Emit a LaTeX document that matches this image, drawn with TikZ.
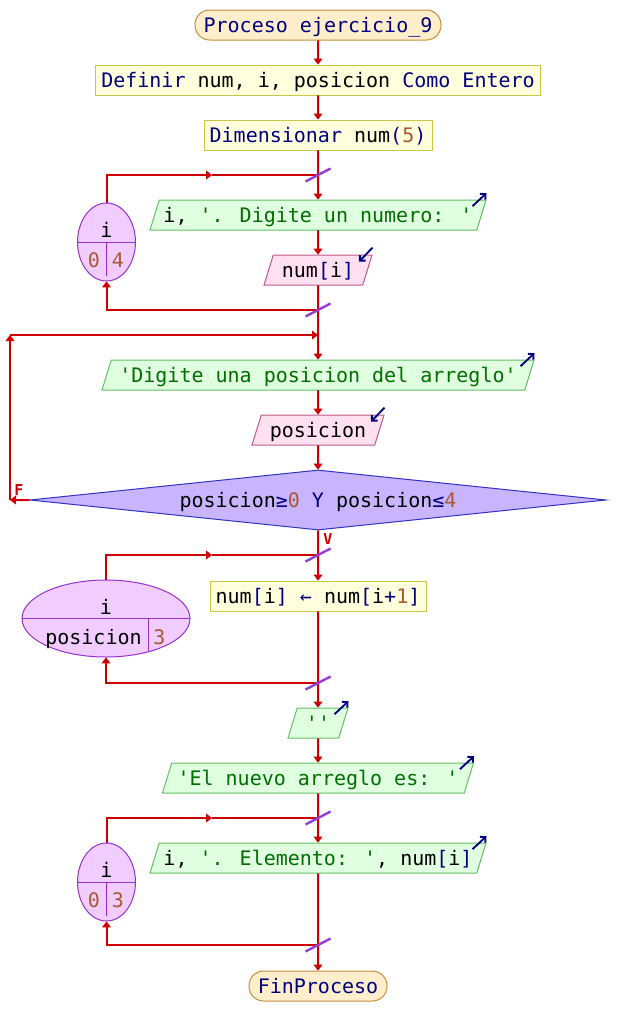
\documentclass[tikz,border=0pt]{standalone}
\usepackage{fontspec}
\usepackage{tikz}
\usetikzlibrary{arrows.meta}
\usetikzlibrary{shapes.geometric}
\newfontfamily\codigo{DejaVu Sans Mono}[Ligatures=TeXOff]
\definecolor{flecha}{RGB}{204,0,0}
\definecolor{barra}{RGB}{150,60,210}
\definecolor{azul}{RGB}{0,0,128}
\definecolor{verde}{RGB}{0,110,0}
\definecolor{numero}{RGB}{170,90,50}
\definecolor{procfondo}{RGB}{255,238,204}
\definecolor{procborde}{RGB}{200,140,60}
\definecolor{asigfondo}{RGB}{255,255,221}
\definecolor{asigborde}{RGB}{200,200,70}
\definecolor{salfondo}{RGB}{224,255,224}
\definecolor{salborde}{RGB}{100,190,100}
\definecolor{entfondo}{RGB}{255,224,240}
\definecolor{entborde}{RGB}{190,90,140}
\definecolor{decfondo}{RGB}{200,180,255}
\definecolor{decborde}{RGB}{50,50,190}
\definecolor{bucfondo}{RGB}{240,204,255}
\definecolor{bucborde}{RGB}{150,50,200}
\newcommand{\kw}[1]{\textcolor{azul}{#1}}
\newcommand{\cad}[1]{\textcolor{verde}{#1}}
\newcommand{\nro}[1]{\textcolor{numero}{#1}}

\begin{document}
\begin{tikzpicture}[x=1pt, y=-1pt, scale=0.75,
        every node/.append style={transform shape, font=\codigo\fontsize{20}{24}\selectfont, text height=18pt, text depth=3.4pt, inner sep=2pt},
        >={Triangle[length=4.5pt,width=6.5pt]},
        flujo/.style={draw=flecha, line width=1.5pt},
        barra/.style={draw=barra, line width=1.8pt},
        icono/.style={draw=azul, line width=1.4pt, -{Straight Barb[length=3pt,width=6pt]}},
        proceso/.style={draw=procborde, fill=procfondo, line width=0.75pt, rounded corners=11, minimum height=30},
        asigna/.style={draw=asigborde, fill=asigfondo, line width=0.75pt, minimum height=30},
        salida/.style={trapezium, trapezium left angle=70, trapezium right angle=110, trapezium stretches body, draw=salborde, fill=salfondo, line width=0.75pt, minimum height=30},
        entrada/.style={salida, draw=entborde, fill=entfondo},
        decision/.style={diamond, aspect=9.6, draw=decborde, fill=decfondo, line width=0.75pt, minimum width=576, minimum height=60, inner sep=1pt},
        bucle/.style={ellipse, draw=bucborde, fill=bucfondo, line width=0.75pt, inner sep=0pt},
        divisor/.style={draw=bucborde, line width=0.75pt},
        etiqueta/.style={text=flecha, font=\codigo\bfseries\fontsize{15}{18}\selectfont, text height=11pt, text depth=0pt, inner sep=0pt}]
    \useasboundingbox (0,0) rectangle (636,1036);

    \node[proceso, minimum width=246] (inicio) at (318,25) {\kw{Proceso ejercicio\_9}};
    \node[asigna, minimum width=445] (definir) at (318,80) {\kw{Definir} num, i, posicion \kw{Como Entero}};
    \node[asigna, minimum width=228] (dimen) at (318,135) {\kw{Dimensionar} num\kw{(}\nro{5}\kw{)}};
    \node[salida, minimum width=336] (sal1) at (318,215) {i, \cad{'. Digite un numero: '}};
    \node[entrada, minimum width=108] (ent1) at (318,270) {num\kw{[}i\kw{]}};
    \node[salida, minimum width=432] (sal2) at (318,375) {\cad{'Digite una posicion del arreglo'}};
    \node[entrada, minimum width=132] (ent2) at (318,430) {posicion};
    \node[decision] (dec) at (318,500) {posicion\kw{≥}\nro{0} \kw{Y} posicion\kw{≤}\nro{4}};
    \node[asigna, minimum width=216] (asig) at (318,596) {num\kw{[}i\kw{]} \kw{←} num\kw{[}i\kw{+}\nro{1}\kw{]}};
    \node[salida, minimum width=60] (sal3) at (318,723) {\cad{''}};
    \node[salida, minimum width=311] (sal4) at (318,778) {\cad{'El nuevo arreglo es: '}};
    \node[salida, minimum width=336] (sal5) at (318,858) {i, \cad{'. Elemento: '}, num\kw{[}i\kw{]}};
    \node[proceso, minimum width=138] (fin) at (318,986) {\kw{FinProceso}};

    \node[bucle, minimum width=58, minimum height=78] (var1) at (106.5,242) {};
    \draw[divisor] (var1.west) -- (var1.east);
    \draw[divisor] (var1.center) -- (106.5,276);
    \node[anchor=base] (var1i) at (106.5,237) {i};
    \node[anchor=base] (var1a) at (94,267) {\nro{0}};
    \node[anchor=base] (var1b) at (118,267) {\nro{4}};

    \node[bucle, minimum width=168, minimum height=77] (var2) at (106,618.5) {};
    \draw[divisor] (var2.west) -- (var2.east);
    \draw[divisor] (148,618.5) -- (148,651.5);
    \node[anchor=base] (var2i) at (106,614) {i};
    \node[anchor=base] (var2a) at (93.5,644) {posicion};
    \node[anchor=base] (var2b) at (159.5,644) {\nro{3}};

    \node[bucle, minimum width=58, minimum height=78] (var3) at (106.5,882) {};
    \draw[divisor] (var3.west) -- (var3.east);
    \draw[divisor] (var3.center) -- (106.5,916);
    \node[anchor=base] (var3i) at (106.5,877) {i};
    \node[anchor=base] (var3a) at (94,907) {\nro{0}};
    \node[anchor=base] (var3b) at (118,907) {\nro{3}};

    \coordinate (b1a) at (318,175);
    \coordinate (b1m) at (212,175);
    \coordinate (b1b) at (318,310);
    \coordinate (b2a) at (318,335);
    \coordinate (rA) at (10,500);
    \coordinate (rB) at (10,335);
    \coordinate (b3a) at (318,555);
    \coordinate (b3m) at (212,555);
    \coordinate (b3b) at (318,683);
    \coordinate (b4a) at (318,818);
    \coordinate (b4m) at (212,818);
    \coordinate (b4b) at (318,945);

    \draw[flujo,->] (inicio) -- (definir);
    \draw[flujo,->] (definir) -- (dimen);
    \draw[flujo,->] (dimen) -- (sal1);
    \draw[flujo,->] (sal1) -- (ent1);
    \draw[flujo] (ent1) -- (b2a);
    \draw[flujo,->] (b2a) -- (sal2);
    \draw[flujo,->] (sal2) -- (ent2);
    \draw[flujo,->] (ent2) -- (dec);
    \draw[flujo,->] (dec) -- (asig);
    \draw[flujo,->] (asig) -- (sal3);
    \draw[flujo,->] (sal3) -- (sal4);
    \draw[flujo,->] (sal4) -- (sal5);
    \draw[flujo,->] (sal5) -- (fin);

    \draw[flujo,->] (var1) |- (b1m);
    \draw[flujo] (b1m) -- (b1a);
    \draw[flujo,->] (b1b) -| (var1);
    \draw[flujo,->] (var2) |- (b3m);
    \draw[flujo] (b3m) -- (b3a);
    \draw[flujo,->] (b3b) -| (var2);
    \draw[flujo,->] (var3) |- (b4m);
    \draw[flujo] (b4m) -- (b4a);
    \draw[flujo,->] (b4b) -| (var3);

    \draw[flujo,->] (dec) -- (rA);
    \draw[flujo,->] (rA) -- (rB);
    \draw[flujo,->] (rB) -- (b2a);
    \node[etiqueta] (lf) at (19,490) {F};
    \node[etiqueta] (lv) at (328,539) {V};

    \foreach \c in {b1a,b1b,b3a,b3b,b4a,b4b}
    {
        \draw[barra] (\c) ++(-12.5,6.5) -- ++(25,-13);
    }
    \foreach \n in {sal1,sal2,sal3,sal4,sal5}
    {
        \draw[icono] (\n.top right corner) ++(-14,6.5) -- ++(14,-13);
    }
    \foreach \n in {ent1,ent2}
    {
        \draw[icono] (\n.top right corner) ++(0,-7) -- ++(-13.5,14);
    }
\end{tikzpicture}
\end{document}
